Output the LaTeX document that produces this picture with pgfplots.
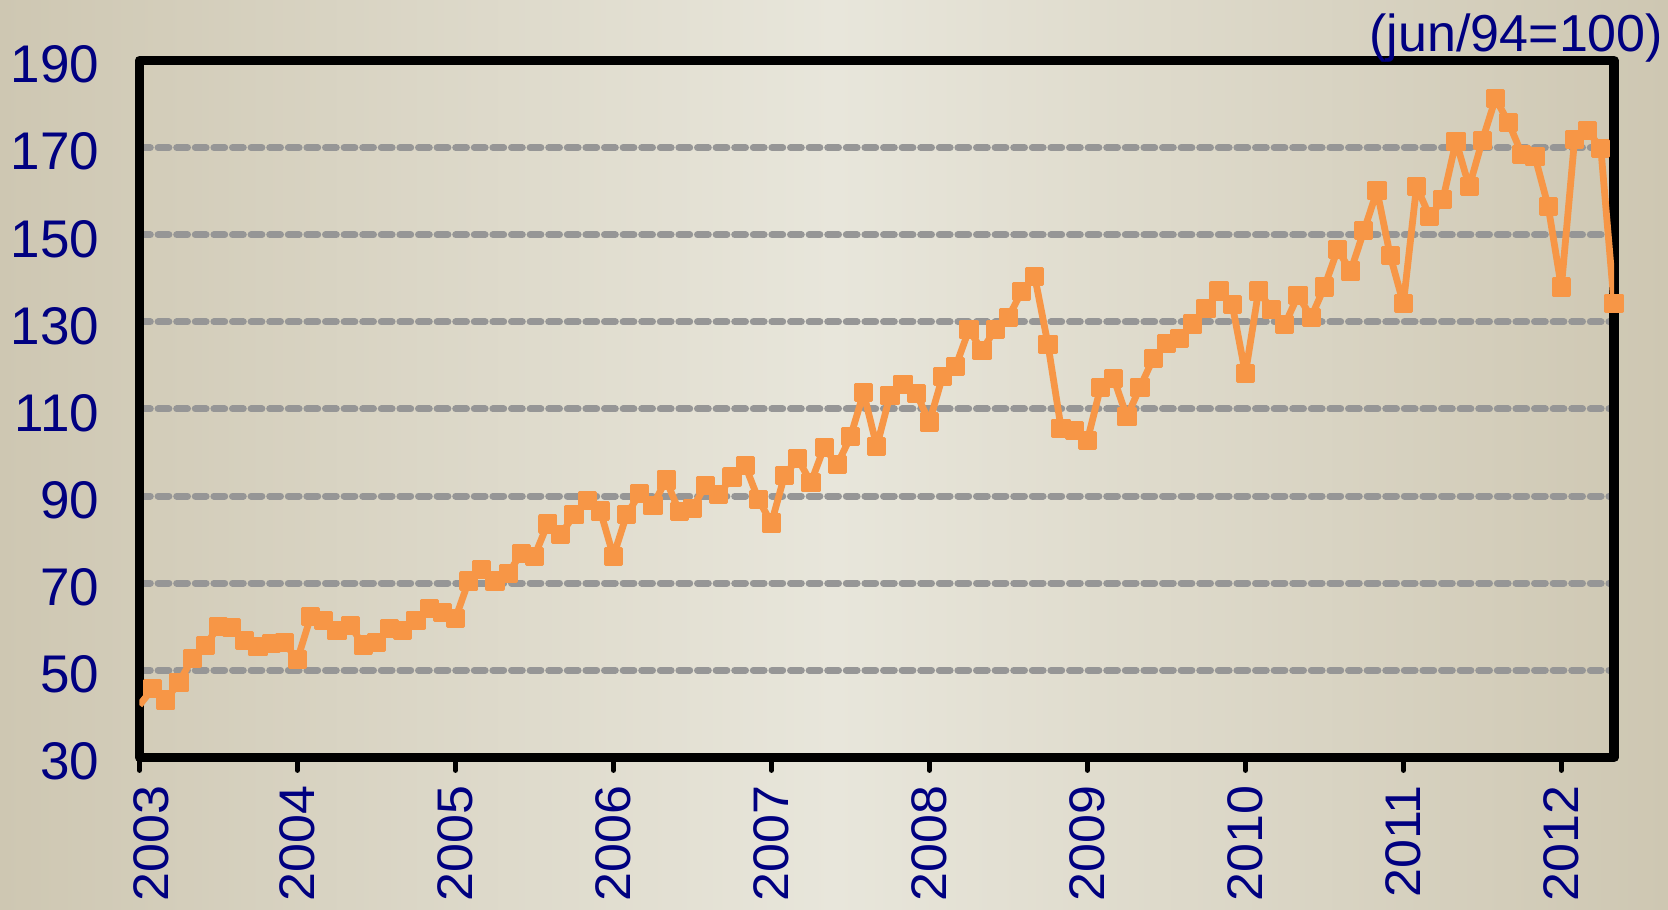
\documentclass[border=0pt]{standalone}
\usepackage{pgfplots}
\pgfplotsset{compat=1.18}
\usepackage{pgfplotstable}
\usepackage{fontspec}
\setmainfont{Liberation Sans}

\definecolor{bgedge}{RGB}{206,199,178}
\definecolor{bgmid}{RGB}{232,230,219}
\definecolor{idxorange}{RGB}{247,150,70}
\definecolor{gridgray}{RGB}{150,150,150}
\definecolor{labelnavy}{RGB}{0,0,128}

% year labels, set a little long along the reading direction
\newcommand{\yr}[1]{\scalebox{1.04}[1]{#1}}

% monthly index (jun/94 = 100), month 0 = Dec 2002, 1 = Jan 2003, ..., 112 = Apr 2012
\pgfplotstableread{
m v
0 42.0
1 45.8
2 43.2
3 47.2
4 52.7
5 55.7
6 60.0
7 59.9
8 56.8
9 55.4
10 56.2
11 56.3
12 52.5
13 62.3
14 61.4
15 59.1
16 60.3
17 55.8
18 56.3
19 59.6
20 59.1
21 61.5
22 64.2
23 63.2
24 61.9
25 70.5
26 73.2
27 70.5
28 72.2
29 76.9
30 76.2
31 83.6
32 81.1
33 85.7
34 89.0
35 86.6
36 76.2
37 85.7
38 90.6
39 87.9
40 93.7
41 86.4
42 87.2
43 92.5
44 90.3
45 94.4
46 97.1
47 89.3
48 83.8
49 94.8
50 98.6
51 93.1
52 101.2
53 97.2
54 103.6
55 113.7
56 101.4
57 113.1
58 115.7
59 113.6
60 107.0
61 117.5
62 119.8
63 128.2
64 123.5
65 128.3
66 131.1
67 136.9
68 140.4
69 124.9
70 105.6
71 105.0
72 102.8
73 115.0
74 117.0
75 108.2
76 115.0
77 121.6
78 125.0
79 126.1
80 129.5
81 133.0
82 137.1
83 134.0
84 118.1
85 137.1
86 132.8
87 129.4
88 136.1
89 131.1
90 138.0
91 146.6
92 141.7
93 150.9
94 160.1
95 145.2
96 134.2
97 161.1
98 154.2
99 158.1
100 171.5
101 161.0
102 171.7
103 181.3
104 175.7
105 168.5
106 167.9
107 156.5
108 138.0
109 171.8
110 174.0
111 169.8
112 134.3
}\indexdata

\begin{document}
\begin{tikzpicture}
\path[use as bounding box] (-69.75pt,-75.8pt) rectangle (764.25pt,378.7pt);
\shade[left color=bgedge, right color=bgedge, middle color=bgmid]
  (-69.75pt,-75.8pt) rectangle (764.25pt,378.7pt);
\begin{axis}[
  at={(0pt,0pt)}, anchor=south west,
  scale only axis, width=737.25pt, height=348.4pt,
  xmin=0, xmax=112, ymin=30, ymax=190,
  xtick={0,12,...,108},
  xticklabels={,\yr{2004},\yr{2005},\yr{2006},\yr{2007},\yr{2008},\yr{2009},\yr{2010},\yr{2011},\yr{2012}},
  extra x ticks={0.9},
  extra x tick labels={\yr{2003}},
  extra x tick style={major tick length=0pt, xticklabel shift=14pt},
  ytick={30,50,...,190},
  xtick pos=bottom, ytick pos=left,
  tick align=outside,
  major tick length=6.5pt,
  xtick style={line width=2.5pt, line cap=round, black},
  ytick style={draw=none},
  axis line style={line width=4.75pt, line join=round, black},
  ymajorgrids,
  grid style={gridgray, line width=3.5pt, line cap=round, dash pattern=on 5.4pt off 3.9pt},
  major grid style={gridgray, line width=3.5pt, line cap=round, dash pattern=on 5.4pt off 3.9pt},
  /pgf/number format/assume math mode=true,
  tick label style={text=labelnavy},
  xticklabel style={font=\fontsize{25}{30}\selectfont, rotate=90, anchor=east, inner sep=0pt},
  xticklabel shift=7.5pt,
  yticklabel style={font=\fontsize{26.5}{31}\selectfont, anchor=east, inner sep=0pt, xshift=-13.4pt, yshift=-2pt},
]
\addplot[idxorange, line width=3.4pt, line join=round, no markers]
  table[x=m, y=v] {\indexdata};
\addplot[only marks, mark=square*, mark size=4pt,
  mark options={draw=idxorange, fill=idxorange, line width=1.6pt, line join=round},
  skip coords between index={0}{1}]
  table[x=m, y=v] {\indexdata};
\end{axis}
\node[anchor=base east, text=labelnavy, font=\fontsize{26}{31}\selectfont, inner sep=0pt]
  at (762pt,352.85pt) {(jun/94=100)};
\end{tikzpicture}
\end{document}
